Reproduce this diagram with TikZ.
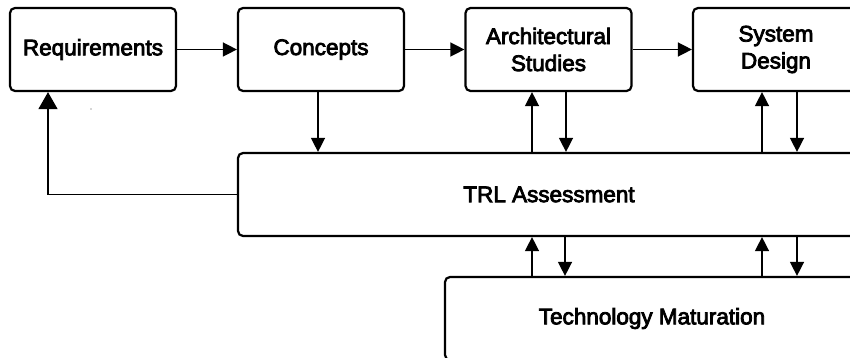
\documentclass[tikz,border=0pt]{standalone}
\usepackage{fontspec}
\setmainfont{Liberation Sans}
\usetikzlibrary{arrows.meta}
\newcommand{\heavytext}[1]{\special{pdf:literal direct 2 Tr 0.8 w}#1\special{pdf:literal direct 0 Tr}}
\begin{document}
\begin{tikzpicture}[x=1pt,y=-1pt,
  box/.style={draw, line width=2.2pt, rounded corners=5pt, minimum height=83pt, align=center,
    inner sep=0pt, font=\fontsize{22.5}{27}\selectfont},
  arr/.style={line width=1.4pt, -{Triangle[length=14pt,width=14pt]}},
  bigarr/.style={line width=1.4pt, -{Triangle[length=17pt,width=19pt]}}]
\useasboundingbox (0,0) rectangle (850,358);
\clip (0,0) rectangle (850,358);
\node[box, minimum width=166pt] (req) at (93,49.5) {\heavytext{Requirements}};
\node[box, minimum width=166pt] (con) at (321,49.5) {\heavytext{Concepts}};
\node[box, minimum width=166pt] (arch) at (548.5,49.5) {\heavytext{Architectural}\\\heavytext{Studies}};
\node[box, minimum width=166pt] (sys) at (776,49.5) {\heavytext{System}\\\heavytext{Design}};
\node[box, minimum width=622pt] (trl) at (549,194.5) {\heavytext{TRL Assessment}};
\node[box, minimum width=414pt] (tech) at (652,318.5) {\heavytext{Technology Maturation}};
\draw[arr] (req) -- (con);
\draw[arr] (con) -- (arch);
\draw[arr] (arch) -- (sys);
\draw[arr] ([xshift=-3pt]con.south) -- ([xshift=-3pt]con.south |- trl.north);
\draw[arr] ([xshift=-16.5pt]arch.south |- trl.north) -- ([xshift=-16.5pt]arch.south);
\draw[arr] ([xshift=17.5pt]arch.south) -- ([xshift=17.5pt]arch.south |- trl.north);
\draw[arr] ([xshift=-14pt]sys.south |- trl.north) -- ([xshift=-14pt]sys.south);
\draw[arr] ([xshift=21pt]sys.south) -- ([xshift=21pt]sys.south |- trl.north);
\coordinate (u1) at (532,0);
\coordinate (d1) at (565,0);
\coordinate (u2) at (762,0);
\coordinate (d2) at (797,0);
\draw[arr] (u1 |- tech.north) -- (u1 |- trl.south);
\draw[arr] (d1 |- trl.south) -- (d1 |- tech.north);
\draw[arr] (u2 |- tech.north) -- (u2 |- trl.south);
\draw[arr] (d2 |- trl.south) -- (d2 |- tech.north);
\draw[bigarr] (trl.west) -| ([xshift=-45pt]req.south);
\fill[black!70] (91,109) circle (0.6pt);
\end{tikzpicture}
\end{document}
